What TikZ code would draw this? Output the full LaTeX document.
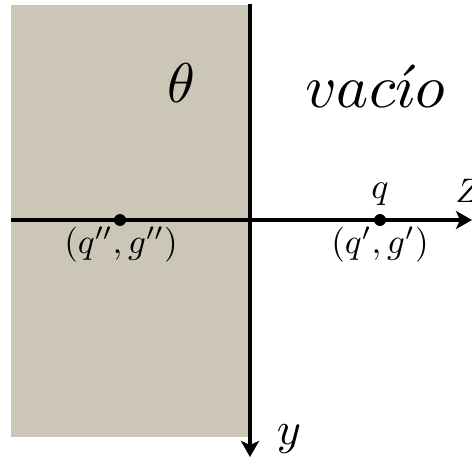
\documentclass[tikz,border=0pt]{standalone}
\usetikzlibrary{arrows.meta}
\definecolor{medium}{RGB}{203,198,182}
\tikzset{
  axis/.style={line width=3.4pt,-{Stealth[length=16pt,width=18pt,inset=4pt]}},
  pt/.style={circle,fill=black,inner sep=0pt,minimum size=12pt},
  txt/.style={inner sep=0pt,font=\fontsize{10}{12}\selectfont},
}
\begin{document}
\begin{tikzpicture}[x=1pt,y=-1pt]
\useasboundingbox (0,0) rectangle (472,463);
\fill[medium] (11,5) rectangle (250,437);
\coordinate (zs) at (11,220);
\coordinate (ze) at (472,220);
\coordinate (ys) at (250,4);
\coordinate (ye) at (250,457);
\draw[axis] (zs) -- (ze);
\draw[axis] (ys) -- (ye);
\node[pt] (p1) at (120,220) {};
\node[pt] (p2) at (380,220) {};
\node[txt,scale=5.6,anchor=base] (th) at (181,102) {$\theta$};
\node[txt,scale=6.1,anchor=base] (vac) at (375,107) {$vac\acute{\imath}o$};
\node[txt,scale=3.6,anchor=base] (q) at (380,198) {$q$};
\node[txt,scale=3.4,anchor=base west] (z) at (455,202) {$Z$};
\node[txt,scale=3.5,anchor=base] (l1) at (121,253) {$(q'',g'')$};
\node[txt,scale=3.5,anchor=base] (l2) at (380,253) {$(q',g')$};
\node[txt,scale=4.6,anchor=base] (y) at (289,444) {$y$};
\end{tikzpicture}
\end{document}
